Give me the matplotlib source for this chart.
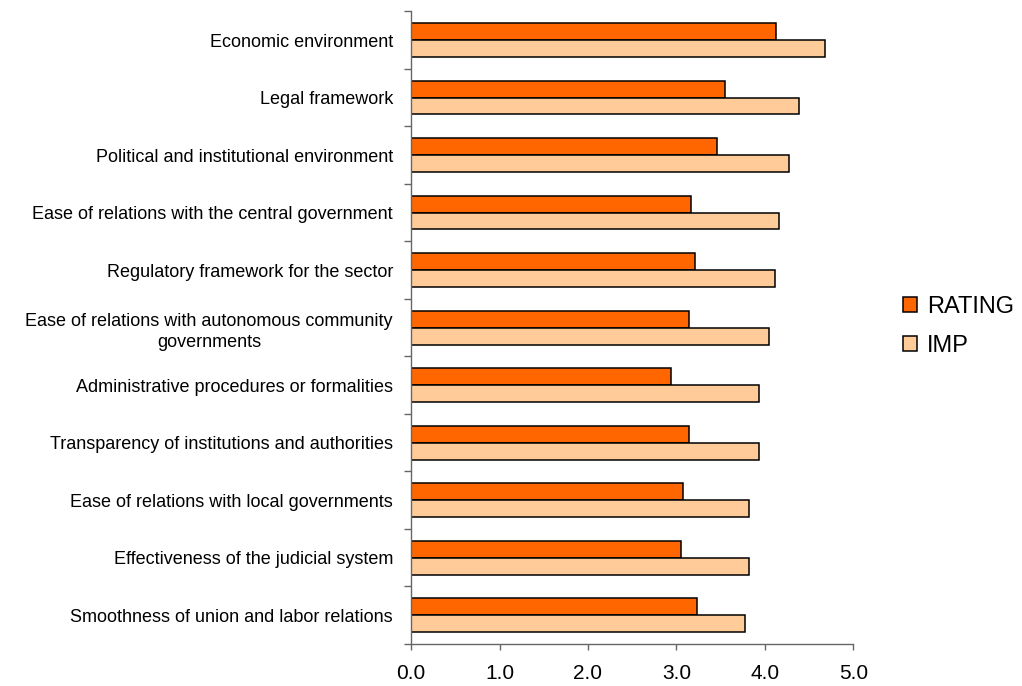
import matplotlib
matplotlib.use("Agg")
import matplotlib.pyplot as plt
import numpy as np

plt.rcParams['font.family'] = ['Liberation Sans', 'DejaVu Sans']

# factors, top to bottom
factors = [
    "Economic environment",
    "Legal framework",
    "Political and institutional environment",
    "Ease of relations with the central government",
    "Regulatory framework for the sector",
    "Ease of relations with autonomous community\ngovernments",
    "Administrative procedures or formalities",
    "Transparency of institutions and authorities",
    "Ease of relations with local governments",
    "Effectiveness of the judicial system",
    "Smoothness of union and labor relations",
]
rating = [4.12, 3.55, 3.46, 3.16, 3.21, 3.14, 2.94, 3.14, 3.07, 3.05, 3.23]
imp = [4.68, 4.38, 4.27, 4.16, 4.11, 4.05, 3.93, 3.93, 3.82, 3.82, 3.77]
xticks = [0.0, 1.0, 2.0, 3.0, 4.0, 5.0]

fig = plt.figure(figsize=(10.22, 6.86), dpi=100)
ax = fig.add_axes([0.4022, 0.0612, 0.835 - 0.4022, 0.9835 - 0.0612])

y = np.arange(len(factors))
w = 0.293
ax.barh(y - w / 2, rating, height=w, color='#FF6600', edgecolor='black',
        linewidth=1.1, label='RATING')
ax.barh(y + w / 2, imp, height=w, color='#FFCC99', edgecolor='black',
        linewidth=1.1, label='IMP')

ax.set_xlim(0, 5)
ax.set_ylim(len(factors) - 0.5, -0.5)
ax.set_xticks(xticks)
ax.set_xticklabels([f"{v:.1f}" for v in xticks], fontsize=15)

ax.set_yticks(y)
ax.set_yticklabels(factors, fontsize=13)
for lab in ax.get_yticklabels():
    lab.set_multialignment('center')
    lab.set_linespacing(1.3)
ax.set_yticks(np.arange(len(factors) + 1) - 0.5, minor=True)
ax.tick_params(axis='y', which='major', length=0, pad=13)
ax.tick_params(axis='y', which='minor', length=5, width=1, color='#666666', direction='out')
ax.tick_params(axis='x', length=4.3, width=1, color='#666666', pad=10)

for s in ['top', 'right']:
    ax.spines[s].set_visible(False)
for s in ['left', 'bottom']:
    ax.spines[s].set_color('#666666')
    ax.spines[s].set_linewidth(1)

fig.legend(loc='center left', bbox_to_anchor=(903 / 1022, 0.524),
           bbox_transform=fig.transFigure, frameon=False, fontsize=17,
           handlelength=0.6, handleheight=0.6, handletextpad=0.42,
           labelspacing=0.7, borderpad=0, borderaxespad=0)

fig.savefig("out.png", dpi=100)
